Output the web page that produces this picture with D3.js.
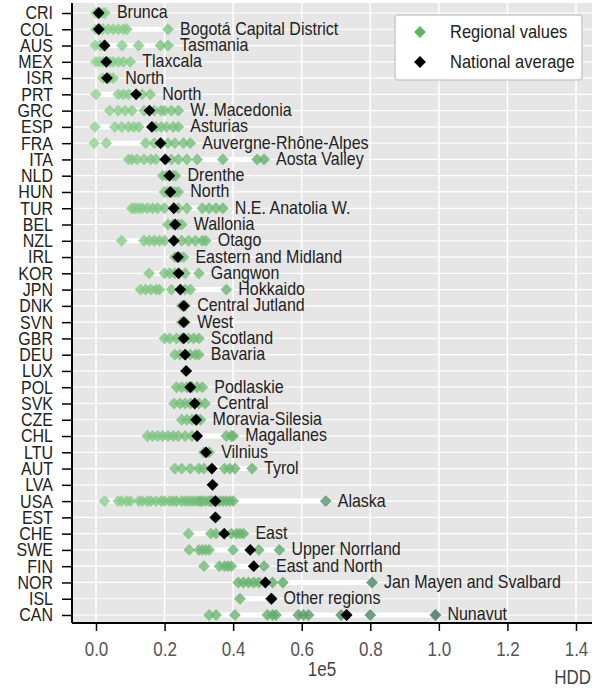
<!DOCTYPE html>
<html>
<head>
<style>
  body { margin: 0; background: #fff; }
  text { font-family: "Liberation Sans", Arial, sans-serif; }
</style>
</head>
<body>
<svg id="chart"></svg>
<script src="https://cdnjs.cloudflare.com/ajax/libs/d3/7.8.5/d3.min.js"></script>
<script>
var countries = ["CRI","COL","AUS","MEX","ISR","PRT","GRC","ESP","FRA","ITA","NLD","HUN","TUR","BEL",
  "NZL","IRL","KOR","JPN","DNK","SVN","GBR","DEU","LUX","POL","SVK","CZE","CHL","LTU","AUT","LVA",
  "USA","EST","CHE","SWE","FIN","NOR","ISL","CAN"];

// national average HDD (x 1e5)
var national = [0.008,0.008,0.025,0.03,0.032,0.117,0.156,0.163,0.188,0.202,0.214,0.217,0.227,0.231,
  0.227,0.239,0.241,0.246,0.256,0.256,0.256,0.26,0.263,0.275,0.288,0.292,0.295,0.321,0.338,0.34,
  0.348,0.348,0.374,0.45,0.46,0.494,0.512,0.731];

// regional HDD values (x 1e5)
var regional = [
  [0.0,0.005,0.01,0.018,0.026],
  [0.0,0.01,0.02,0.035,0.05,0.065,0.08,0.09,0.21],
  [-0.002,0.013,0.076,0.124,0.188,0.21],
  [0.0,0.01,0.02,0.03,0.04,0.05,0.065,0.08,0.1],
  [0.02,0.04,0.05],
  [0.0,0.065,0.08,0.095,0.135,0.158],
  [0.04,0.065,0.085,0.105,0.14,0.17,0.19,0.2,0.22,0.24],
  [-0.003,0.055,0.075,0.095,0.11,0.125,0.175,0.19,0.205,0.225,0.24],
  [-0.005,0.03,0.145,0.17,0.19,0.21,0.23,0.255,0.275],
  [0.095,0.105,0.12,0.14,0.16,0.175,0.22,0.24,0.265,0.295,0.37,0.47,0.49],
  [0.195,0.205,0.215,0.225,0.232],
  [0.2,0.21,0.22,0.23,0.24],
  [0.105,0.115,0.125,0.135,0.15,0.165,0.18,0.2,0.24,0.265,0.31,0.33,0.35,0.37],
  [0.21,0.225,0.24,0.25],
  [0.075,0.14,0.155,0.17,0.185,0.2,0.25,0.27,0.29,0.31,0.32],
  [0.23,0.245,0.255],
  [0.155,0.2,0.215,0.23,0.26,0.3],
  [0.13,0.145,0.16,0.175,0.185,0.22,0.26,0.275,0.38],
  [0.25,0.26],
  [0.25,0.26],
  [0.2,0.215,0.235,0.25,0.27,0.285,0.3],
  [0.23,0.245,0.26,0.275,0.29,0.3],
  [0.263],
  [0.235,0.25,0.265,0.28,0.295,0.31],
  [0.228,0.245,0.26,0.275,0.3,0.318],
  [0.25,0.265,0.28,0.295,0.305],
  [0.15,0.165,0.18,0.195,0.21,0.225,0.24,0.26,0.28,0.38,0.395,0.4],
  [0.315,0.33],
  [0.23,0.25,0.275,0.3,0.315,0.375,0.39,0.405,0.455],
  [0.34],
  [0.025,0.065,0.075,0.09,0.1,0.125,0.135,0.15,0.16,0.175,0.19,0.2,0.215,0.225,0.235,0.25,0.26,
   0.27,0.28,0.29,0.3,0.305,0.31,0.32,0.33,0.335,0.34,0.35,0.36,0.37,0.38,0.39,0.4,0.67],
  [0.35],
  [0.27,0.335,0.35,0.395,0.41,0.42,0.43],
  [0.272,0.3,0.31,0.32,0.33,0.4,0.475,0.535],
  [0.315,0.36,0.375,0.385,0.395,0.49],
  [0.415,0.43,0.445,0.46,0.475,0.515,0.545,0.805],
  [0.42,0.51],
  [0.33,0.35,0.405,0.5,0.515,0.525,0.59,0.605,0.62,0.715,0.8,0.99]
];

// name of the region with the highest value
var maxRegion = ["Brunca","Bogotá Capital District","Tasmania","Tlaxcala","North","North","W. Macedonia",
  "Asturias","Auvergne-Rhône-Alpes","Aosta Valley","Drenthe","North","N.E. Anatolia W.","Wallonia",
  "Otago","Eastern and Midland","Gangwon","Hokkaido","Central Jutland","West","Scotland","Bavaria","",
  "Podlaskie","Central","Moravia-Silesia","Magallanes","Vilnius","Tyrol","","Alaska","","East",
  "Upper Norrland","East and North","Jan Mayen and Svalbard","Other regions","Nunavut"];

var xTicks = [0, 0.2, 0.4, 0.6, 0.8, 1.0, 1.2, 1.4];

var width = 600, height = 688;
var panel = { left: 72, right: 592, top: 3, bottom: 623 };
var fs = 16, stretch = 1.15;

var svg = d3.select("#chart").attr("width", width).attr("height", height);

var x = d3.scaleLinear().domain([0, 1.4]).range([96, 576]);
var y = d3.scalePoint().domain(countries).range([13, 615]);
var color = d3.scaleLinear().domain([0, 0.5, 1.0]).range(["#8ed28e", "#5fae68", "#3a6f62"]);

// the source font is drawn tall and narrow: stretch text vertically
function tall(sel) {
  sel.each(function() {
    var t = d3.select(this);
    var tx = +t.attr("x") || 0, ty = +t.attr("y") || 0;
    t.attr("x", 0).attr("y", 0)
      .attr("transform", "translate(" + tx + "," + ty + ") scale(1," + stretch + ")");
  });
}

var rows = countries.map(function(c, i) {
  var vals = regional[i];
  return { c: c, vals: vals, nat: national[i], label: maxRegion[i],
    min: d3.min(vals.concat([national[i]])), max: d3.max(vals.concat([national[i]])) };
});

svg.append("rect")
  .attr("x", panel.left).attr("y", panel.top)
  .attr("width", panel.right - panel.left).attr("height", panel.bottom - panel.top)
  .attr("fill", "#e6e6e6");

// grid
svg.append("g").selectAll("line").data(countries).enter().append("line")
  .attr("x1", panel.left).attr("x2", panel.right)
  .attr("y1", function(d) { return y(d); }).attr("y2", function(d) { return y(d); })
  .attr("stroke", "#fff").attr("stroke-width", 1.2);

svg.append("g").selectAll("line").data(xTicks).enter().append("line")
  .attr("x1", function(d) { return x(d); }).attr("x2", function(d) { return x(d); })
  .attr("y1", panel.top).attr("y2", panel.bottom)
  .attr("stroke", "#fff").attr("stroke-width", 1.5);

// range bars
svg.append("g").selectAll("line").data(rows).enter().append("line")
  .attr("x1", function(d) { return x(d.min); }).attr("x2", function(d) { return x(d.max); })
  .attr("y1", function(d) { return y(d.c); }).attr("y2", function(d) { return y(d.c); })
  .attr("stroke", "#fff").attr("stroke-width", 5);

var diamond = d3.symbol().type(d3.symbolSquare).size(70);

var pts = [];
rows.forEach(function(r) { r.vals.forEach(function(v) { pts.push({ c: r.c, v: v }); }); });

svg.append("g").selectAll("path").data(pts).enter().append("path")
  .attr("d", diamond)
  .attr("transform", function(d) { return "translate(" + x(d.v) + "," + y(d.c) + ") rotate(45)"; })
  .attr("fill", function(d) { return color(d.v); })
  .attr("fill-opacity", 0.8);

svg.append("g").selectAll("path").data(rows).enter().append("path")
  .attr("d", diamond)
  .attr("transform", function(d) { return "translate(" + x(d.nat) + "," + y(d.c) + ") rotate(45)"; })
  .attr("fill", "#000");

svg.append("g").selectAll("text").data(rows.filter(function(d) { return d.label; })).enter().append("text")
  .attr("x", function(d) { return x(d.max) + 12; })
  .attr("y", function(d) { return y(d.c) - 1; })
  .attr("dy", "0.35em")
  .attr("font-size", fs)
  .attr("fill", "#222")
  .text(function(d) { return d.label; })
  .call(tall);

// axes
var yAxis = svg.append("g").attr("transform", "translate(" + panel.left + ",0)")
  .call(d3.axisLeft(y).tickSize(10).tickPadding(9));
yAxis.select(".domain").attr("d", "M0," + panel.top + "V" + panel.bottom).attr("stroke-width", 2);
yAxis.selectAll(".tick line").attr("stroke-width", 1.5);
yAxis.selectAll("text").attr("font-size", fs).attr("fill", "#222")
  .attr("font-family", "'Liberation Sans', Arial, sans-serif").call(tall);

var xAxis = svg.append("g").attr("transform", "translate(0," + panel.bottom + ")")
  .call(d3.axisBottom(x).tickValues(xTicks).tickFormat(d3.format(".1f")).tickSize(8).tickPadding(11));
xAxis.select(".domain").attr("d", "M" + panel.left + ",0H" + panel.right).attr("stroke-width", 2);
xAxis.selectAll(".tick line").attr("stroke-width", 1.5);
xAxis.selectAll("text").attr("font-size", 17).attr("fill", "#555")
  .attr("font-family", "'Liberation Sans', Arial, sans-serif").call(tall);

svg.append("text").attr("x", 322).attr("y", 676).attr("text-anchor", "middle")
  .attr("font-size", 17).attr("fill", "#444").text("1e5").call(tall);
svg.append("text").attr("x", 591).attr("y", 684).attr("text-anchor", "end")
  .attr("font-size", 17).attr("fill", "#444").text("HDD").call(tall);

// legend
var lg = svg.append("g").attr("transform", "translate(395,15)");
lg.append("rect").attr("width", 187).attr("height", 65).attr("rx", 3)
  .attr("fill", "#fff").attr("stroke", "#ccc").attr("stroke-width", 1.5);
var legendItems = [{ name: "Regional values", fill: "#5cb85c" }, { name: "National average", fill: "#000" }];
legendItems.forEach(function(d, i) {
  lg.append("path").attr("d", diamond)
    .attr("transform", "translate(25," + (17 + i * 30) + ") rotate(45)")
    .attr("fill", d.fill);
  lg.append("text").attr("x", 55).attr("y", 16 + i * 30).attr("dy", "0.35em")
    .attr("font-size", 16.5).attr("fill", "#222").text(d.name).call(tall);
});
</script>
</body>
</html>
